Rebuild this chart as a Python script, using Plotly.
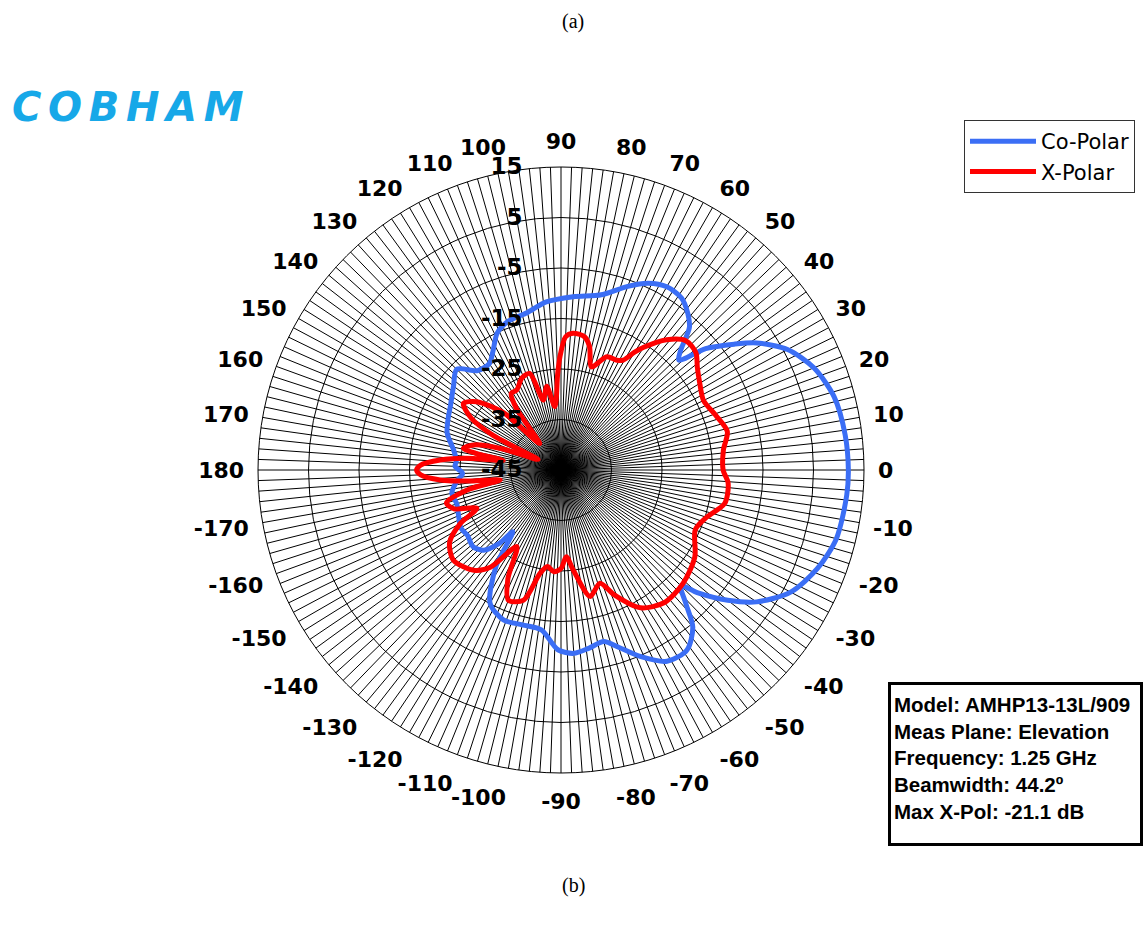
import plotly.graph_objects as go

# ---- data (angle in degrees, level in dB) ----
co_angles = [0, 7, 15, 22, 28, 33, 36, 40, 43, 45, 48, 51, 55, 60, 65, 70, 77, 86, 95, 102,
             110, 115, 120, 124, 130, 136, 142, 150, 156, 162, 170, 175, 178, 182, 186, 192,
             198, 204, 210, 215, 221, 226, 230, 232, 236, 242, 249, 256, 263, 269, 274, 279,
             284, 288, 293, 299, 305, 310, 313, 316, 318, 322, 326, 332, 339, 346, 355, 360]
co_polar = [11.9, 11.7, 11.0, 9.0, 5.8, 1.2, -2.6, -7.6, -13.1, -11.5, -7.0, -5.1, -3.4, -3.1,
            -4.2, -6.3, -9.4, -10.6, -11.6, -13.1, -13.8, -15.1, -18.0, -19.6, -19.3, -16.3,
            -18.0, -19.7, -20.5, -21.3, -23.5, -24.2, -24.0, -25.5, -24.3, -22.9, -23.3, -22.8,
            -22.1, -22.4, -21.9, -22.9, -26.1, -29.5, -22.0, -15.1, -13.2, -13.4, -13.1, -9.4,
            -8.6, -9.3, -10.0, -8.1, -4.9, -1.7, -1.5, -4.4, -8.7, -12.0, -8.7, -3.1, 1.7, 6.5,
            9.4, 11.2, 11.8, 11.9]

x_angles = [0, 7, 13, 19, 26, 32, 37, 41, 46, 51, 56, 58, 60.5, 63, 68, 73.5, 77, 80, 85, 88,
            90.5, 92, 95.5, 99.7, 104.2, 108, 113, 119, 123, 126, 129, 135, 141, 145.7, 150,
            153, 155.5, 160, 164, 167.5, 169, 170.5, 173, 175.3, 178, 180, 182, 184.7, 187,
            189.3, 192, 196, 200, 204.4, 208, 213, 220, 229, 234, 240, 244, 248, 254, 258.5,
            262, 266, 270, 273.5, 277, 283, 289, 293, 300, 308, 317, 327, 336, 342, 348.5,
            355.5, 360]
x_polar = [-12.9, -12.6, -11.2, -12.4, -13.6, -12.6, -11.2, -9.6, -9.4, -11.8, -15.7, -17.5,
           -20.0, -20.6, -20.8, -23.7, -19.9, -18.2, -17.8, -18.6, -22.5, -26.0, -32.4, -28.2,
           -30.7, -24.9, -25.2, -26.9, -26.9, -30.0, -38.3, -29.0, -23.5, -21.6, -24.5, -30.0,
           -40.0, -33.0, -27.0, -25.2, -28.0, -33.4, -26.0, -21.0, -17.2, -16.4, -17.2, -21.0,
           -27.0, -32.8, -26.0, -21.4, -22.5, -26.7, -22.4, -18.7, -17.2, -18.7, -21.2, -27.5,
           -21.0, -17.2, -18.2, -24.1, -25.7, -24.8, -25.5, -27.8, -25.0, -19.3, -21.3, -18.2,
           -13.5, -11.7, -12.0, -13.4, -15.9, -14.7, -11.9, -11.8, -12.9]

angle_ticks = list(range(0, 360, 2))
angle_labels = [("" if a % 10 else str(a if a <= 180 else a - 360)) for a in angle_ticks]
radial_ticks = [-45, -35, -25, -15, -5, 5, 15]
radial_labels = [str(v) for v in radial_ticks]

info_lines = ["Model: AMHP13-13L/909", "Meas Plane: Elevation", "Frequency: 1.25 GHz",
              "Beamwidth: 44.2º", "Max X-Pol: -21.1 dB"]

fig = go.Figure()
fig.add_trace(go.Scatterpolar(theta=co_angles, r=co_polar, mode="lines", name="Co-Polar",
                              line=dict(color="#3b6ef5", width=5, shape="spline", smoothing=0.8)))
fig.add_trace(go.Scatterpolar(theta=x_angles, r=x_polar, mode="lines", name="X-Polar",
                              line=dict(color="#ff0000", width=5, shape="spline", smoothing=0.8)))

W, H = 1147, 927
cx, cy, R = 561, 470, 303
fig.update_layout(
    width=W, height=H, margin=dict(l=0, r=0, t=0, b=0),
    paper_bgcolor="white", plot_bgcolor="white",
    polar=dict(
        domain=dict(x=[(cx - R) / W, (cx + R) / W], y=[(H - cy - R) / H, (H - cy + R) / H]),
        bgcolor="white",
        angularaxis=dict(
            direction="counterclockwise", rotation=0,
            tickmode="array", tickvals=angle_ticks, ticktext=angle_labels,
            ticks="outside", ticklen=9, tickcolor="rgba(0,0,0,0)",
            tickfont=dict(family="DejaVu Sans", size=22, color="black", weight="bold"),
            showgrid=True, gridcolor="black", gridwidth=1,
            showline=True, linecolor="black", linewidth=1,
        ),
        radialaxis=dict(
            range=[-45, 15], angle=90, side="counterclockwise",
            tickmode="array", tickvals=radial_ticks, ticktext=radial_labels,
            tickangle=90, ticks="outside", ticklen=30, tickcolor="rgba(0,0,0,0)",
            tickfont=dict(family="DejaVu Sans", size=23, color="black", weight="bold"),
            showgrid=True, gridcolor="black", gridwidth=1,
            showline=False,
        ),
    ),
    legend=dict(
        x=1135 / W, y=1 - 120 / H, xanchor="right", yanchor="top",
        bgcolor="white", bordercolor="#333333", borderwidth=1,
        font=dict(family="DejaVu Sans", size=21, color="black"),
        itemwidth=66, tracegroupgap=0,
    ),
    showlegend=True,
)

fig.add_annotation(xref="paper", yref="paper", x=573 / W, y=1 - 22 / H, text="(a)",
                   yanchor="middle", showarrow=False,
                   font=dict(family="Liberation Serif", size=20, color="black"))
fig.add_annotation(xref="paper", yref="paper", x=573 / W, y=1 - 885 / H, text="(b)",
                   yanchor="middle", showarrow=False,
                   font=dict(family="Liberation Serif", size=20, color="black"))
fig.add_annotation(xref="paper", yref="paper", x=10 / W, y=1 - 107 / H, xanchor="left",
                   yanchor="middle",
                   text="C\u2006O\u2006B\u2006H\u2006A\u2006M", showarrow=False,
                   font=dict(family="DejaVu Sans", size=40, color="#17a8e8", weight="bold",
                             style="italic"))
# info box frame
fig.add_annotation(xref="paper", yref="paper", x=888 / W, y=1 - 682 / H,
                   xanchor="left", yanchor="top", text=" ", showarrow=False,
                   width=249, height=158, borderwidth=3, bordercolor="black", borderpad=0,
                   bgcolor="white")
# info box text
fig.add_annotation(xref="paper", yref="paper", x=892 / W, y=1 - 691 / H,
                   xanchor="left", yanchor="top", align="left",
                   text="<br>".join(info_lines), showarrow=False,
                   font=dict(family="Liberation Sans", size=20.5, color="black", weight="bold"))

fig.write_html("out.html", post_script="document.body.style.margin='0';",
               config={"displayModeBar": False})
